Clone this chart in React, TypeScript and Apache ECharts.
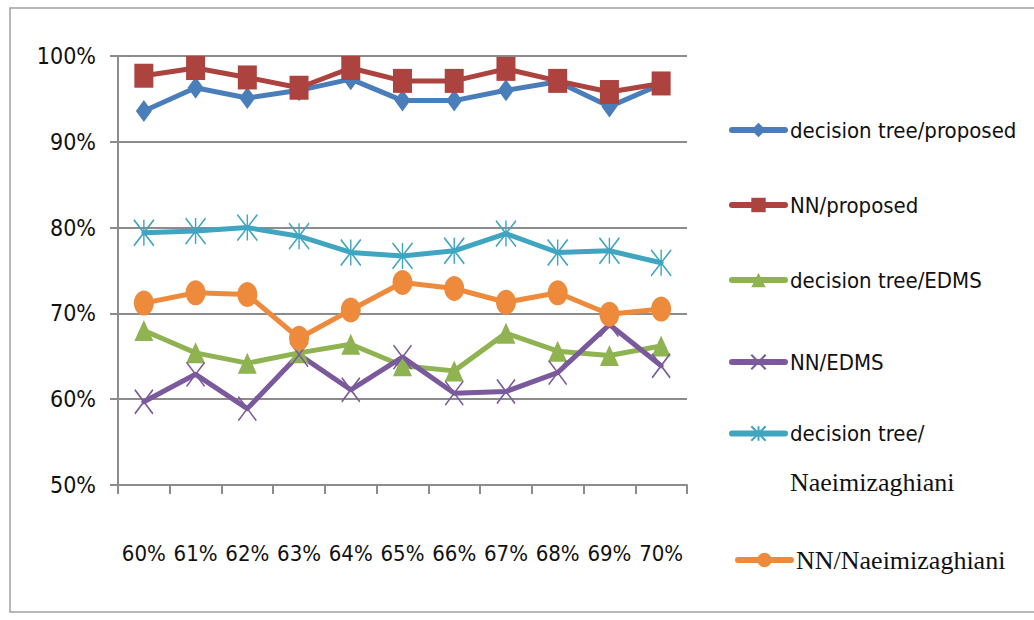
import React, { useEffect, useRef } from "react";
import * as echarts from "echarts";

const categories = ["60%", "61%", "62%", "63%", "64%", "65%", "66%", "67%", "68%", "69%", "70%"];
const seriesNames = [
  "decision tree/proposed",
  "NN/proposed",
  "decision tree/EDMS",
  "NN/EDMS",
  "decision tree/Naeimizaghiani",
  "NN/Naeimizaghiani",
];
const dtProposed = [93.6, 96.3, 95.1, 96.0, 97.3, 94.8, 94.8, 96.0, 97.0, 94.1, 96.7];
const nnProposed = [97.7, 98.6, 97.5, 96.3, 98.6, 97.1, 97.1, 98.5, 97.1, 95.8, 96.8];
const dtEDMS = [68.0, 65.4, 64.2, 65.4, 66.4, 63.9, 63.3, 67.7, 65.6, 65.1, 66.2];
const nnEDMS = [59.7, 62.9, 58.9, 65.2, 61.1, 64.9, 60.7, 60.9, 63.1, 68.7, 63.9];
const dtNaeimi = [79.4, 79.6, 80.0, 79.0, 77.1, 76.7, 77.3, 79.3, 77.1, 77.3, 75.9];
const nnNaeimi = [71.2, 72.4, 72.2, 67.1, 70.4, 73.6, 72.9, 71.3, 72.4, 69.9, 70.5];
const yMin = 50;
const yMax = 100;
const yStep = 10;

const SANS = "'Liberation Sans Narrow', 'DejaVu Sans Condensed', 'Liberation Sans', sans-serif";
const SERIF = "'Liberation Serif', 'DejaVu Serif', serif";

const colors = ["#4A7EBB", "#AC433F", "#8FB350", "#7A5A9C", "#3FA5C0", "#EE8A3C"];

export default function App() {
  const ref = useRef<HTMLDivElement>(null);
  useEffect(() => {
    if (!ref.current) return;
    const chart = echarts.init(ref.current, undefined, { renderer: "svg" });
    const datas = [dtProposed, nnProposed, dtEDMS, nnEDMS, dtNaeimi, nnNaeimi];
    const symbols: any[] = [
      "diamond",
      "rect",
      "triangle",
      "path://M0,0L10,12M10,0L0,12",
      "path://M0,0L10,12M10,0L0,12M5,0L5,12",
      "circle",
    ];
    const sizes: any[] = [[16, 22], [19, 24], [19, 21], [18, 24], [20, 26], [20, 25]];
    const series = datas.map((d, i) => ({
      name: seriesNames[i],
      type: "line",
      data: d,
      symbol: symbols[i],
      symbolSize: sizes[i],
      showAllSymbol: true,
      lineStyle: { color: colors[i], width: 5, cap: "round", join: "round" },
      itemStyle:
        i === 3 || i === 4
          ? { color: colors[i], borderColor: colors[i], borderWidth: 1.6 }
          : { color: colors[i], borderWidth: 0 },
      emphasis: { disabled: true },
    }));
    const legendTops = [110, 185, 260, 342, 355, 540];
    const legends = seriesNames.map((n, i) => {
      const base: any = {
        data: [n],
        left: i === 5 ? 730 : 724,
        top: legendTops[i],
        orient: "vertical",
        itemWidth: 53,
        itemHeight: 18,
        itemGap: 4,
        selectedMode: false,
        lineStyle: { width: 6, cap: "round" },
        textStyle: {
          fontFamily: i === 5 ? SERIF : SANS,
          fontSize: i === 5 ? 26 : 22,
          color: "#111",
          lineHeight: 30,
        },
      };
      if (i === 4) {
        base.formatter = () => "\n{a|decision tree/}\n{b|Naeimizaghiani}";
        base.textStyle = {
          fontFamily: SANS,
          fontSize: 22,
          color: "#111",
          lineHeight: 49,
          rich: {
            a: { fontFamily: SANS, fontSize: 22, color: "#111", lineHeight: 49 },
            b: { fontFamily: SERIF, fontSize: 26, color: "#111", lineHeight: 49 },
          },
        };
      }
      return base;
    });
    chart.setOption({
      animation: false,
      backgroundColor: "#fff",
      grid: { left: 118, right: 347, top: 56, bottom: 135, containLabel: false },
      legend: legends,
      xAxis: {
        type: "category",
        data: categories,
        boundaryGap: true,
        axisLine: { lineStyle: { color: "#8C8C8C", width: 2 } },
        axisTick: { show: true, length: 9, interval: 0, lineStyle: { color: "#8C8C8C", width: 2 } },
        axisLabel: {
          interval: 0,
          margin: 57,
          color: "#111",
          fontFamily: SANS,
          fontSize: 22,
        },
      },
      yAxis: {
        type: "value",
        min: yMin,
        max: yMax,
        interval: yStep,
        axisLine: { show: true, lineStyle: { color: "#8C8C8C", width: 2 } },
        axisTick: { show: true, length: 8, lineStyle: { color: "#8C8C8C", width: 2 } },
        splitLine: { show: true, lineStyle: { color: "#8C8C8C", width: 2 } },
        axisLabel: {
          margin: 22,
          formatter: "{value}%",
          color: "#111",
          fontFamily: SANS,
          fontSize: 23,
        },
      },
      graphic: [
        {
          type: "rect",
          shape: { x: 10, y: 8, width: 1040, height: 604 },
          style: { fill: "none", stroke: "#A0A0A0", lineWidth: 1.5 },
          silent: true,
        },
      ],
      series,
    });
    return () => chart.dispose();
  }, []);
  return (
    <div
      ref={ref}
      style={{ position: "fixed", left: 0, top: 0, width: 1034, height: 620, background: "#fff" }}
    />
  );
}
